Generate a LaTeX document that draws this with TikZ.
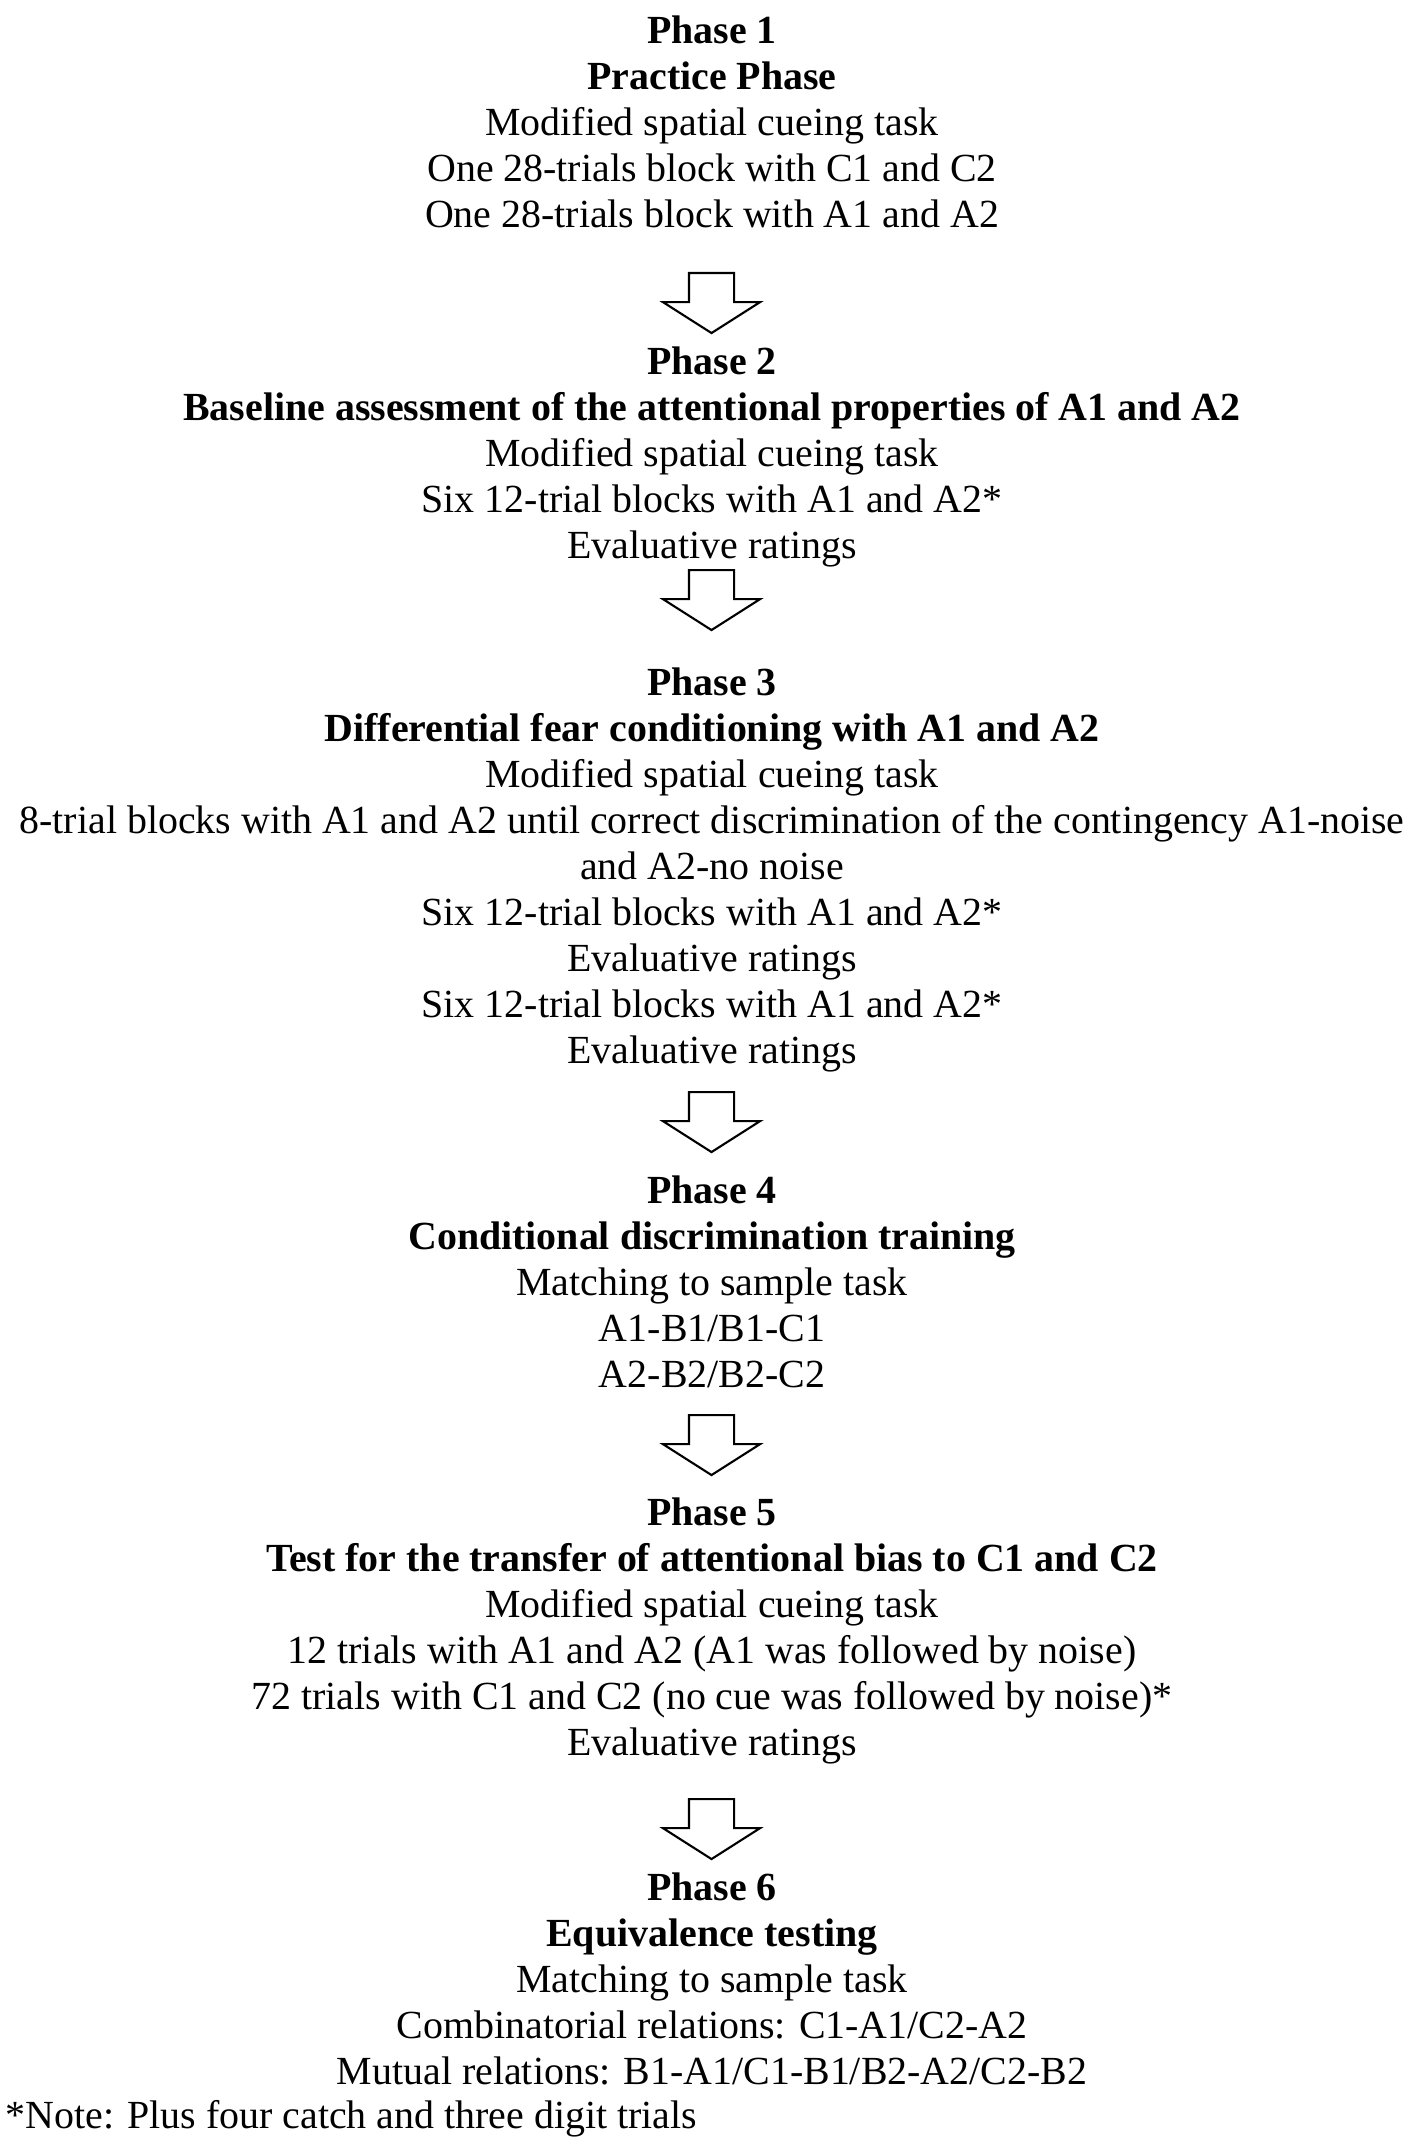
\documentclass[tikz,border=0pt]{standalone}
\usepackage{fontspec}
\setmainfont{Liberation Serif}
\usetikzlibrary{shapes.arrows,positioning}
\tikzset{
  phase/.style={align=center,inner sep=0pt,anchor=north,
                font=\fontsize{11.35}{13.1}\selectfont},
  note/.style={inner sep=0pt,anchor=base west,
               font=\fontsize{11.35}{13.1}\selectfont},
  blkarr/.style={single arrow,draw,line width=0.6pt,rotate=-90,anchor=tail,
                 minimum height=0.6cm,inner sep=0pt,inner ysep=0.215cm,
                 single arrow head extend=0.26cm,single arrow tip angle=115},
}

\begin{document}
\begin{tikzpicture}
\useasboundingbox (0,0) rectangle (14.17,-21.51);

%% ---------- phases ----------
\node[phase] (ph1) at (7.12,-0.15)
  {\textbf{Phase 1}\\
   \textbf{Practice Phase}\\
   Modified spatial cueing task\\
   One 28-trials block with C1 and C2\\
   One 28-trials block with A1 and A2};

\node[phase] (ph2) at (7.12,-3.46)
  {\textbf{Phase 2}\\
   \textbf{Baseline assessment of the attentional properties of A1 and A2}\\
   Modified spatial cueing task\\
   Six 12-trial blocks with A1 and A2*\\
   Evaluative ratings};

\node[phase] (ph3) at (7.12,-6.67)
  {\textbf{Phase 3}\\
   \textbf{Differential fear conditioning with A1 and A2}\\
   Modified spatial cueing task\\
   8-trial blocks with A1 and A2 until correct discrimination of the contingency A1-noise\\
   and A2-no noise\\
   Six 12-trial blocks with A1 and A2*\\
   Evaluative ratings\\
   Six 12-trial blocks with A1 and A2*\\
   Evaluative ratings};

\node[phase] (ph4) at (7.12,-11.75)
  {\textbf{Phase 4}\\
   \textbf{Conditional discrimination training}\\
   Matching to sample task\\
   A1-B1/B1-C1\\
   A2-B2/B2-C2};

\node[phase] (ph5) at (7.12,-14.97)
  {\textbf{Phase 5}\\
   \textbf{Test for the transfer of attentional bias to C1 and C2}\\
   Modified spatial cueing task\\
   12 trials with A1 and A2 (A1 was followed by noise)\\
   72 trials with C1 and C2 (no cue was followed by noise)*\\
   Evaluative ratings};

\node[phase] (ph6) at (7.12,-18.72)
  {\textbf{Phase 6}\\
   \textbf{Equivalence testing}\\
   Matching to sample task\\
   Combinatorial relations: C1-A1/C2-A2\\
   Mutual relations: B1-A1/C1-B1/B2-A2/C2-B2};

\node[note] (nt) at (0.05,-21.28) {*Note: Plus four catch and three digit trials};

%% ---------- block arrows ----------
\node[blkarr] (ar12) at (7.115,-2.72) {};
\node[blkarr] (ar23) at (7.115,-5.69) {};
\node[blkarr] (ar34) at (7.115,-10.91) {};
\node[blkarr] (ar45) at (7.115,-14.14) {};
\node[blkarr] (ar56) at (7.115,-17.98) {};
\end{tikzpicture}
\end{document}
